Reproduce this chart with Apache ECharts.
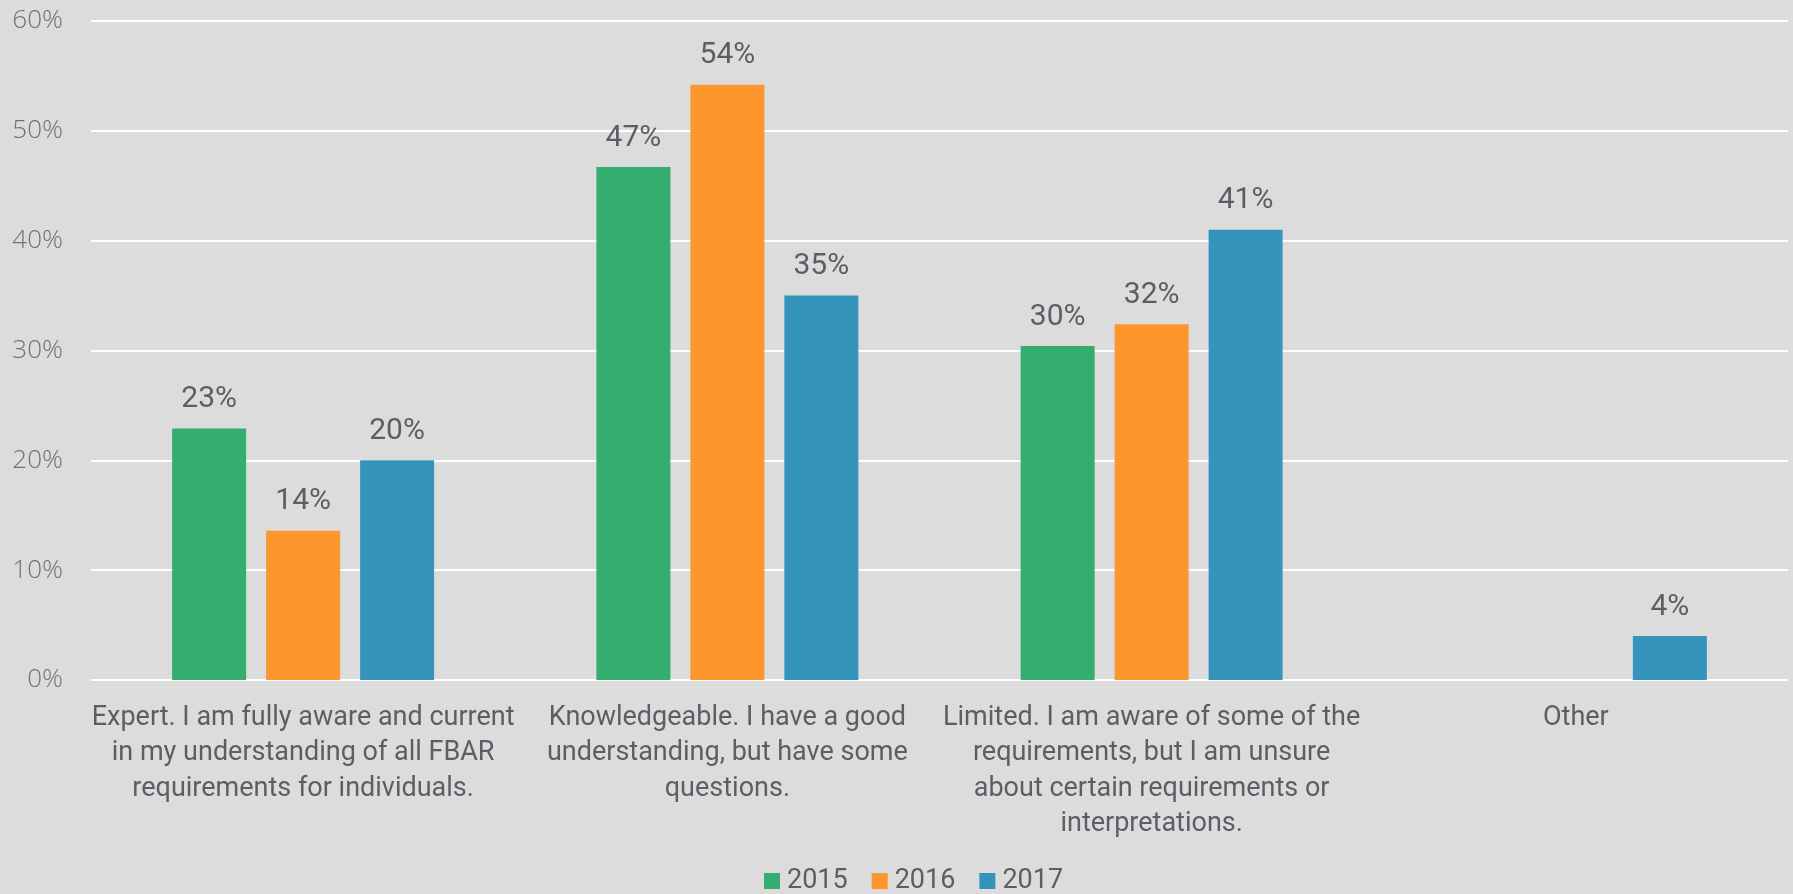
<!DOCTYPE html>
<html>
<head>
<meta charset="utf-8">
<script src="https://cdn.jsdelivr.net/npm/echarts@6/dist/echarts.min.js"></script>
<style>
  html, body { margin: 0; padding: 0; background: #dcdcdc; }
  #chart { width: 1793px; height: 894px; }
</style>
</head>
<body>
<div id="chart"></div>
<script>
// Survey: self-rated FBAR knowledge, share of respondents by year
const categories = [
  'Expert. I am fully aware and current\nin my understanding of all FBAR\nrequirements for individuals.',
  'Knowledgeable. I have a good\nunderstanding, but have some\nquestions.',
  'Limited. I am aware of some of the\nrequirements, but I am unsure\nabout certain requirements or\ninterpretations.',
  'Other'
];
const years = ['2015', '2016', '2017'];
const values2015 = [22.9, 46.7, 30.4, null];
const values2016 = [13.6, 54.2, 32.4, null];
const values2017 = [20.0, 35.0, 41.0, 4.0];
const yTicks = [0, 10, 20, 30, 40, 50, 60];

const colors = ['#33ae6e', '#fd962d', '#3494bb'];
const seriesValues = [values2015, values2016, values2017];

const chart = echarts.init(document.getElementById('chart'), null, { renderer: 'canvas' });

const labelFont = { fontFamily: 'Roboto', color: '#5b5e64' };

chart.setOption({
  backgroundColor: '#dcdcdc',
  animation: false,
  color: colors,
  grid: { left: 91, right: 5, top: 21, bottom: 214 },
  legend: {
    top: 867,
    left: 764,
    padding: 0,
    itemWidth: 16,
    itemHeight: 16,
    itemGap: 24,
    icon: 'rect',
    textStyle: Object.assign({ fontSize: 27, lineHeight: 28, padding: [0, 0, 0, 2] }, labelFont),
    data: years
  },
  xAxis: {
    type: 'category',
    data: categories,
    axisLine: { show: false },
    axisTick: { show: false },
    axisLabel: Object.assign({
      fontSize: 27,
      lineHeight: 35.5,
      margin: 20,
      interval: 0
    }, labelFont)
  },
  yAxis: {
    type: 'value',
    min: yTicks[0],
    max: yTicks[yTicks.length - 1],
    interval: 10,
    axisLine: { show: false },
    axisTick: { show: false },
    splitLine: { lineStyle: { color: '#ffffff', width: 2 } },
    axisLabel: {
      formatter: v => v + '%',
      fontFamily: 'Open Sans',
      fontWeight: 300,
      fontSize: 26,
      color: '#6f7277',
      margin: 28
    }
  },
  series: years.map((y, i) => ({
    name: y,
    type: 'bar',
    data: seriesValues[i],
    barWidth: 74,
    barGap: '27%',
    itemStyle: { color: colors[i] },
    label: Object.assign({
      show: true,
      position: 'top',
      distance: 14,
      fontSize: 30,
      formatter: p => Math.round(p.value) + '%'
    }, labelFont)
  }))
});
</script>
</body>
</html>
